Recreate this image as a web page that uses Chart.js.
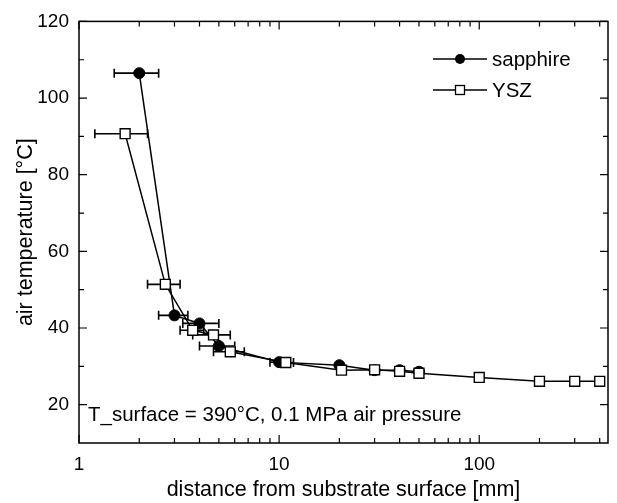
<!DOCTYPE html>
<html>
<head>
<meta charset="utf-8">
<script src="https://cdn.jsdelivr.net/npm/chart.js@4/dist/chart.umd.min.js"></script>
<style>
  html, body { margin: 0; padding: 0; background: #fff; }
  #wrap { width: 617px; height: 503px; }
</style>
</head>
<body>
<div id="wrap"><canvas id="c" width="617" height="503"></canvas></div>
<script>
// ---- data ----
const sapphireX = [2, 3, 4, 5, 10, 20, 30, 40, 50];
const sapphireY = [106.5, 43.3, 41.2, 35.3, 31.1, 30.3, 29, 29, 28.6];
const sapphireXErrLo = [1.5, 2.5, 3.3, 4.0, 9.0, null, null, null, null];
const sapphireXErrHi = [2.5, 3.5, 5.0, 6.0, 11.0, null, null, null, null];

const yszX = [1.7, 2.7, 3.7, 4.7, 5.7, 10.8, 20.5, 30, 40, 50, 100, 200, 300, 400];
const yszY = [90.7, 51.4, 39.4, 38.2, 33.8, 31, 29, 29.1, 28.7, 28.2, 27.1, 26.1, 26.1, 26.1];
const yszXErrLo = [1.2, 2.2, 3.2, 3.7, 4.7, 9.8, null, null, null, null, null, null, null, null];
const yszXErrHi = [2.2, 3.2, 4.2, 5.7, 6.7, 11.8, null, null, null, null, null, null, null, null];

const xTickValues = [1, 10, 100];
const xTickLabels = ['1', '10', '100'];
const xMinorTicks = [2, 3, 4, 5, 6, 7, 8, 9, 20, 30, 40, 50, 60, 70, 80, 90, 200, 300, 400];
const yTickValues = [20, 40, 60, 80, 100, 120];
const yMinorTicks = [30, 50, 70, 90, 110];

const xTitle = 'distance from substrate surface [mm]';
const yTitle = 'air temperature [°C]';
const annotationText = 'T_surface = 390°C, 0.1 MPa air pressure';
const seriesNames = ['sapphire', 'YSZ'];

const FONT = "'Liberation Sans', Arial, Helvetica, sans-serif";

const toPts = (xs, ys) => xs.map((v, i) => ({ x: v, y: ys[i] }));

const errorBars = {
  id: 'errorBars',
  beforeDatasetsDraw(chart) {
    const { ctx, scales: { x, y } } = chart;
    const sets = [
      [sapphireY, sapphireXErrLo, sapphireXErrHi],
      [yszY, yszXErrLo, yszXErrHi]
    ];
    ctx.save();
    ctx.strokeStyle = '#000';
    ctx.lineWidth = 1.6;
    sets.forEach(([ys, lo, hi]) => {
      ys.forEach((yv, i) => {
        if (lo[i] == null) return;
        const py = y.getPixelForValue(yv);
        const x1 = x.getPixelForValue(lo[i]);
        const x2 = x.getPixelForValue(hi[i]);
        ctx.beginPath();
        ctx.moveTo(x1, py); ctx.lineTo(x2, py);
        ctx.moveTo(x1, py - 4.5); ctx.lineTo(x1, py + 4.5);
        ctx.moveTo(x2, py - 4.5); ctx.lineTo(x2, py + 4.5);
        ctx.stroke();
      });
    });
    ctx.restore();
  }
};

const frameAndExtras = {
  id: 'frameAndExtras',
  afterDraw(chart) {
    const { ctx, chartArea: a, scales: { x, y } } = chart;
    ctx.save();
    ctx.strokeStyle = '#000';
    ctx.lineWidth = 1.5;
    ctx.strokeRect(a.left, a.top, a.right - a.left, a.bottom - a.top);
    ctx.lineWidth = 1.2;
    ctx.beginPath();
    const xt = (v, len) => {
      const px = x.getPixelForValue(v);
      ctx.moveTo(px, a.bottom); ctx.lineTo(px, a.bottom - len);
      ctx.moveTo(px, a.top); ctx.lineTo(px, a.top + len);
    };
    const yt = (v, len) => {
      const py = y.getPixelForValue(v);
      ctx.moveTo(a.left, py); ctx.lineTo(a.left + len, py);
      ctx.moveTo(a.right, py); ctx.lineTo(a.right - len, py);
    };
    xTickValues.forEach(v => xt(v, 8));
    xMinorTicks.forEach(v => xt(v, 5));
    yTickValues.forEach(v => yt(v, 8));
    yMinorTicks.forEach(v => yt(v, 5));
    ctx.stroke();

    // annotation
    ctx.fillStyle = '#000';
    ctx.font = '20.5px ' + FONT;
    ctx.textBaseline = 'alphabetic';
    ctx.textAlign = 'left';
    ctx.fillText(annotationText, a.left + 9, a.bottom - 22);

    // legend
    const lx0 = 433, lx1 = 487, tx = 492;
    const rows = [59, 90];
    ctx.font = '20.5px ' + FONT;
    ctx.textBaseline = 'middle';
    rows.forEach((ry, i) => {
      ctx.lineWidth = 1.5;
      ctx.beginPath();
      ctx.moveTo(lx0, ry); ctx.lineTo(lx1, ry);
      ctx.stroke();
      const cx = (lx0 + lx1) / 2;
      if (i === 0) {
        ctx.beginPath();
        ctx.arc(cx, ry, 5, 0, Math.PI * 2);
        ctx.fillStyle = '#000';
        ctx.fill();
      } else {
        ctx.fillStyle = '#fff';
        ctx.fillRect(cx - 4.5, ry - 4.5, 9, 9);
        ctx.lineWidth = 1.3;
        ctx.strokeRect(cx - 4.5, ry - 4.5, 9, 9);
      }
      ctx.fillStyle = '#000';
      ctx.fillText(seriesNames[i], tx, ry + 1);
    });
    ctx.restore();
  }
};

new Chart(document.getElementById('c'), {
  type: 'scatter',
  data: {
    datasets: [
      {
        label: seriesNames[1],
        data: toPts(yszX, yszY),
        showLine: true,
        borderColor: '#000',
        borderWidth: 1.5,
        pointStyle: 'rect',
        pointRadius: 7,
        pointBackgroundColor: '#fff',
        pointBorderColor: '#000',
        pointBorderWidth: 1.4,
        order: 0
      },
      {
        label: seriesNames[0],
        data: toPts(sapphireX, sapphireY),
        showLine: true,
        borderColor: '#000',
        borderWidth: 1.5,
        pointStyle: 'circle',
        pointRadius: 5.5,
        pointBackgroundColor: '#000',
        pointBorderColor: '#000',
        pointBorderWidth: 1,
        order: 1
      }
    ]
  },
  options: {
    responsive: false,
    animation: false,
    devicePixelRatio: 1,
    layout: { padding: { left: 0, top: 17, right: 9, bottom: 0 } },
    plugins: { legend: { display: false }, tooltip: { enabled: false } },
    scales: {
      x: {
        type: 'logarithmic',
        min: 1,
        max: 440,
        grid: { display: false, drawTicks: false },
        border: { display: false },
        afterBuildTicks: s => { s.ticks = xTickValues.map(v => ({ value: v })); },
        afterFit: s => { s.height = 60; },
        ticks: {
          color: '#000',
          font: { family: FONT, size: 19 },
          padding: 10,
          maxRotation: 0,
          autoSkip: false,
          callback: (v) => xTickLabels[xTickValues.indexOf(v)] ?? ''
        },
        title: {
          display: true,
          text: xTitle,
          color: '#000',
          font: { family: FONT, size: 21.5 },
          padding: { top: 0, bottom: 0 }
        }
      },
      y: {
        type: 'linear',
        min: 10,
        max: 120,
        grid: { display: false, drawTicks: false },
        border: { display: false },
        afterBuildTicks: s => { s.ticks = yTickValues.map(v => ({ value: v })); },
        afterFit: s => { s.width = 79; },
        ticks: {
          color: '#000',
          font: { family: FONT, size: 19 },
          padding: 10
        },
        title: {
          display: true,
          text: yTitle,
          color: '#000',
          font: { family: FONT, size: 21.5 },
          padding: { top: 13, bottom: 0 }
        }
      }
    }
  },
  plugins: [errorBars, frameAndExtras]
});
</script>
</body>
</html>
